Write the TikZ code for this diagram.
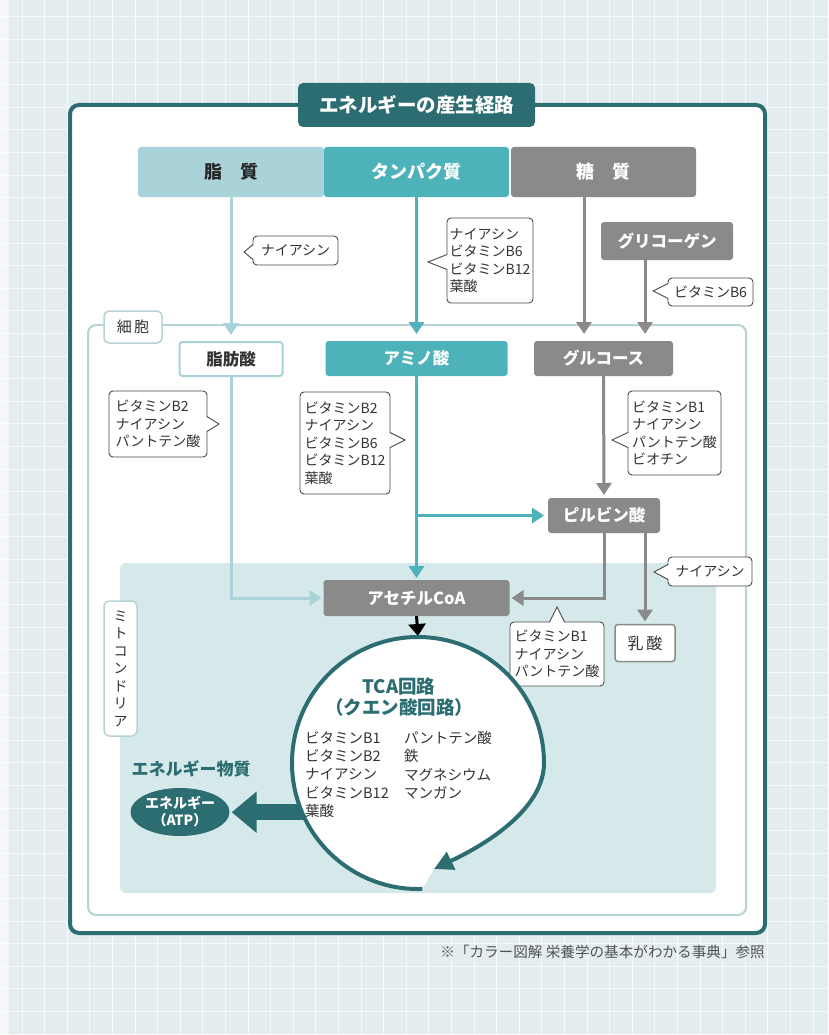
\documentclass[tikz,border=0pt]{standalone}
\usepackage{fontspec}
\setmainfont{Noto Sans CJK JP}
\usetikzlibrary{arrows.meta,calc,shapes.geometric}
\definecolor{bgc}{HTML}{E3EDF0}
\definecolor{dk}{HTML}{2C6D72}
\definecolor{tl}{HTML}{4DB2B9}
\definecolor{lt}{HTML}{A9D3D8}
\definecolor{gy}{HTML}{8A8A8A}
\definecolor{cellc}{HTML}{B8D2D6}
\definecolor{mito}{HTML}{D6E9EA}
\definecolor{txt}{HTML}{333333}
\definecolor{cob}{HTML}{4A4A4A}
\tikzset{
 bx/.style={rounded corners=3pt, inner sep=0pt, outer sep=0pt, font=\fontsize{16.5}{19}\selectfont\bfseries},
 co/.style={draw=cob, line width=0.9pt, fill=white, rounded corners=4pt, inner sep=0pt, outer sep=0pt, align=left, text=txt, font=\fontsize{14}{17.5}\selectfont},
 cot/.style={draw=cob, line width=0.9pt},
 arr/.style={line width=3pt, -{Triangle[width=15pt,length=12pt]}},
}
\newcommand\tailL[2]{%
 \fill[white] ($(#1.west|-#2)+(1.5,-7.5)$) -- (#2) -- ($(#1.west|-#2)+(1.5,7.5)$) -- cycle;
 \draw[cot] ($(#1.west|-#2)+(0,-7.5)$) -- (#2) -- ($(#1.west|-#2)+(0,7.5)$);}
\newcommand\tailR[2]{%
 \fill[white] ($(#1.east|-#2)+(-1.5,-7.5)$) -- (#2) -- ($(#1.east|-#2)+(-1.5,7.5)$) -- cycle;
 \draw[cot] ($(#1.east|-#2)+(0,-7.5)$) -- (#2) -- ($(#1.east|-#2)+(0,7.5)$);}
\newcommand\tailU[2]{%
 \fill[white] ($(#1.north-|#2)+(-7.5,1.5)$) -- (#2) -- ($(#1.north-|#2)+(7.5,1.5)$) -- cycle;
 \draw[cot] ($(#1.north-|#2)+(-7.5,0)$) -- (#2) -- ($(#1.north-|#2)+(7.5,0)$);}
\begin{document}
\begin{tikzpicture}[x=1pt,y=-1pt]
\useasboundingbox (0,0) rectangle (828,1035);
% background grid
\fill[bgc] (0,0) rectangle (828,1035);
\foreach \i in {0,...,36} \draw[white, opacity=0.75, line width=1pt] (22+22.6*\i,0) -- ++(0,1035);
\foreach \i in {0,...,45} \draw[white, opacity=0.75, line width=1pt] (0,17+22.6*\i) -- ++(828,0);
\fill[white, opacity=0.6] (0,0) rectangle (9,1035);
% outer frame
\draw[dk, line width=4pt, fill=white, rounded corners=9pt] (70,105) rectangle (765,933);
\node[fill=dk, rounded corners=5pt, minimum width=237pt, minimum height=44pt, inner sep=0pt, text=white, font=\fontsize{19.5}{22}\selectfont\bfseries] (title) at (416.5,105) {エネルギーの産生経路};
% top boxes
\node[bx, fill=lt, text=black!85, minimum width=186pt, minimum height=50pt, font=\fontsize{18}{20}\selectfont\bfseries] (lipid) at (231,172) {脂\quad 質};
\node[bx, fill=tl, text=white, minimum width=185pt, minimum height=50pt, font=\fontsize{18}{20}\selectfont\bfseries] (protein) at (416.5,172) {タンパク質};
\node[bx, fill=gy, text=white, minimum width=185pt, minimum height=50pt, font=\fontsize{18}{20}\selectfont\bfseries] (sugar) at (603.5,172) {糖\quad 質};
\node[bx, fill=gy, text=white, minimum width=132pt, minimum height=38pt, font=\fontsize{16.5}{19}\selectfont\bfseries] (glycogen) at (667,241) {グリコーゲン};
% cell
\draw[cellc, line width=2pt, rounded corners=8pt] (88,325) rectangle (746,915);
\fill[mito, rounded corners=6pt] (120,563) rectangle (716,893);
\node[draw=cellc, line width=1.5pt, fill=white, rounded corners=5pt, minimum width=58pt, minimum height=32pt, inner sep=0pt, text=txt, font=\fontsize{15}{17}\selectfont] (cell) at (133,327) {細\,胞};
\node[draw=cellc, line width=1.5pt, fill=white, rounded corners=5pt, minimum width=33pt, minimum height=135pt, inner sep=0pt, align=center, text=txt, font=\fontsize{14}{17.5}\selectfont] (mitol) at (120.5,668.5) {ミ\\ト\\コ\\ン\\ド\\リ\\ア};
% second row boxes
\node[bx, draw=lt, line width=2pt, fill=white, text=txt, minimum width=103pt, minimum height=34pt] (fa) at (231,359) {脂肪酸};
\node[bx, fill=tl, text=white, minimum width=182pt, minimum height=35pt] (amino) at (416.5,358.5) {アミノ酸};
\node[bx, fill=gy, text=white, minimum width=139pt, minimum height=35pt] (glucose) at (603.5,358.5) {グルコース};
\node[bx, fill=gy, text=white, minimum width=112pt, minimum height=35pt] (pyr) at (604,515.5) {ピルビン酸};
\node[bx, fill=gy, text=white, minimum width=186pt, minimum height=36pt] (acoa) at (416.5,598) {アセチルCoA};
\node[bx, draw=gy, line width=1.5pt, fill=white, text=txt, minimum width=60pt, minimum height=37pt, font=\fontsize{16}{19}\selectfont] (lactate) at (645,643) {乳\,酸};
% arrows
\draw[arr, lt, shorten >=7pt] (lipid.south) -- (fa.north);
\draw[arr, tl, shorten >=7pt] (protein.south) -- (amino.north);
\draw[arr, gy, shorten >=7pt] ([xshift=-19.5pt]sugar.south) -- ([xshift=-19.5pt]glucose.north);
\draw[arr, gy, shorten >=7pt] ([xshift=-22pt]glycogen.south) -- ([xshift=-22pt]glycogen.south |- glucose.north);
\draw[arr, lt, shorten >=2pt] (fa.south) |- (acoa.west);
\draw[arr, tl, shorten >=2pt] (amino.south) -- (acoa.north);
\draw[arr, tl, shorten >=4pt] (amino.south |- pyr.west) -- (pyr.west);
\draw[arr, gy, shorten >=3pt] (glucose.south) -- (pyr.north);
\draw[arr, gy, shorten >=2pt] (pyr.south) |- (acoa.east);
\draw[arr, gy, shorten >=3pt] (pyr.south -| lactate.north) -- (lactate.north);
% callouts
\node[co, minimum width=85pt, minimum height=29pt] (c1) at (295.5,250.5) {ナイアシン};
\coordinate (t1) at (244,252); \tailL{c1}{t1}
\node[co, minimum width=86pt, minimum height=85pt] (c2) at (490,260.5) {ナイアシン\\ビタミンB6\\ビタミンB12\\葉酸};
\coordinate (t2) at (428,262); \tailL{c2}{t2}
\node[co, minimum width=85pt, minimum height=28pt] (c3) at (710.5,292) {ビタミンB6};
\coordinate (t3) at (653,291); \tailL{c3}{t3}
\node[co, minimum width=98pt, minimum height=66pt] (c4) at (158,424) {ビタミンB2\\ナイアシン\\パントテン酸};
\coordinate (t4) at (219,424); \tailR{c4}{t4}
\node[co, minimum width=90pt, minimum height=102pt] (c5) at (345,443) {ビタミンB2\\ナイアシン\\ビタミンB6\\ビタミンB12\\葉酸};
\coordinate (t5) at (405,440); \tailR{c5}{t5}
\node[co, minimum width=93pt, minimum height=84pt] (c6) at (674.5,433) {ビタミンB1\\ナイアシン\\パントテン酸\\ビオチン};
\coordinate (t6) at (612,440); \tailL{c6}{t6}
\node[co, minimum width=84pt, minimum height=29pt] (c7) at (710,571.5) {ナイアシン};
\coordinate (t7) at (654,572); \tailL{c7}{t7}
\node[co, minimum width=94pt, minimum height=64pt] (c8) at (557,654) {ビタミンB1\\ナイアシン\\パントテン酸};
\coordinate (t8) at (557,607); \tailU{c8}{t8}
% TCA cycle
\coordinate (tc) at (418,763);
\node[circle, minimum size=252pt, inner sep=0pt, outer sep=0pt] (tca) at (tc) {};
\draw[arr, black, -{Triangle[width=17pt,length=12pt]}, shorten >=1pt] (acoa.south) -- (tca.north);
\node[ellipse, fill=dk, minimum width=84pt, minimum height=48pt, inner sep=0pt, text=white, align=center, font=\fontsize{14}{17}\selectfont\bfseries] (atp) at (180,812) {エネルギー\\（ATP）};
\node[text=dk, font=\fontsize{17}{19}\selectfont\bfseries] (enlabel) at (191,769) {エネルギー物質};
\draw[dk, line width=16pt, -{Triangle[width=40pt,length=25pt]}, shorten >=2pt] ($(tca.203)+(10,0)$) -- (tca.203 -| atp.east);
\begin{scope}[shift={(tc)}, y=1pt]
\fill[white] (272:126) arc[start angle=272, end angle=0, radius=126] .. controls (126,-55) and (43,-93) .. (16,-106) -- cycle;
\draw[dk, line width=4pt, -{Triangle[width=19pt,length=19pt]}] (272:126) arc[start angle=272, end angle=0, radius=126] .. controls (126,-55) and (43,-93) .. (16,-106);
\end{scope}
\node[text=dk, align=center, font=\fontsize{18.5}{20.5}\selectfont\bfseries] (tcat) at (399,697) {TCA回路\\（クエン酸回路）};
\node[anchor=north west, inner sep=0pt, align=left, text=txt, font=\fontsize{14.5}{18.3}\selectfont] (tcl) at (305,731) {ビタミンB1\\ビタミンB2\\ナイアシン\\ビタミンB12\\葉酸};
\node[anchor=north west, inner sep=0pt, align=left, text=txt, font=\fontsize{14.5}{18.3}\selectfont] (tcr) at (404,731) {パントテン酸\\鉄\\マグネシウム\\マンガン};
% footnote
\node[anchor=east, inner sep=0pt, text=txt!85, font=\fontsize{14.6}{16}\selectfont] (note) at (765,952) {※「カラー図解 栄養学の基本がわかる事典」参照};
\end{tikzpicture}
\end{document}
